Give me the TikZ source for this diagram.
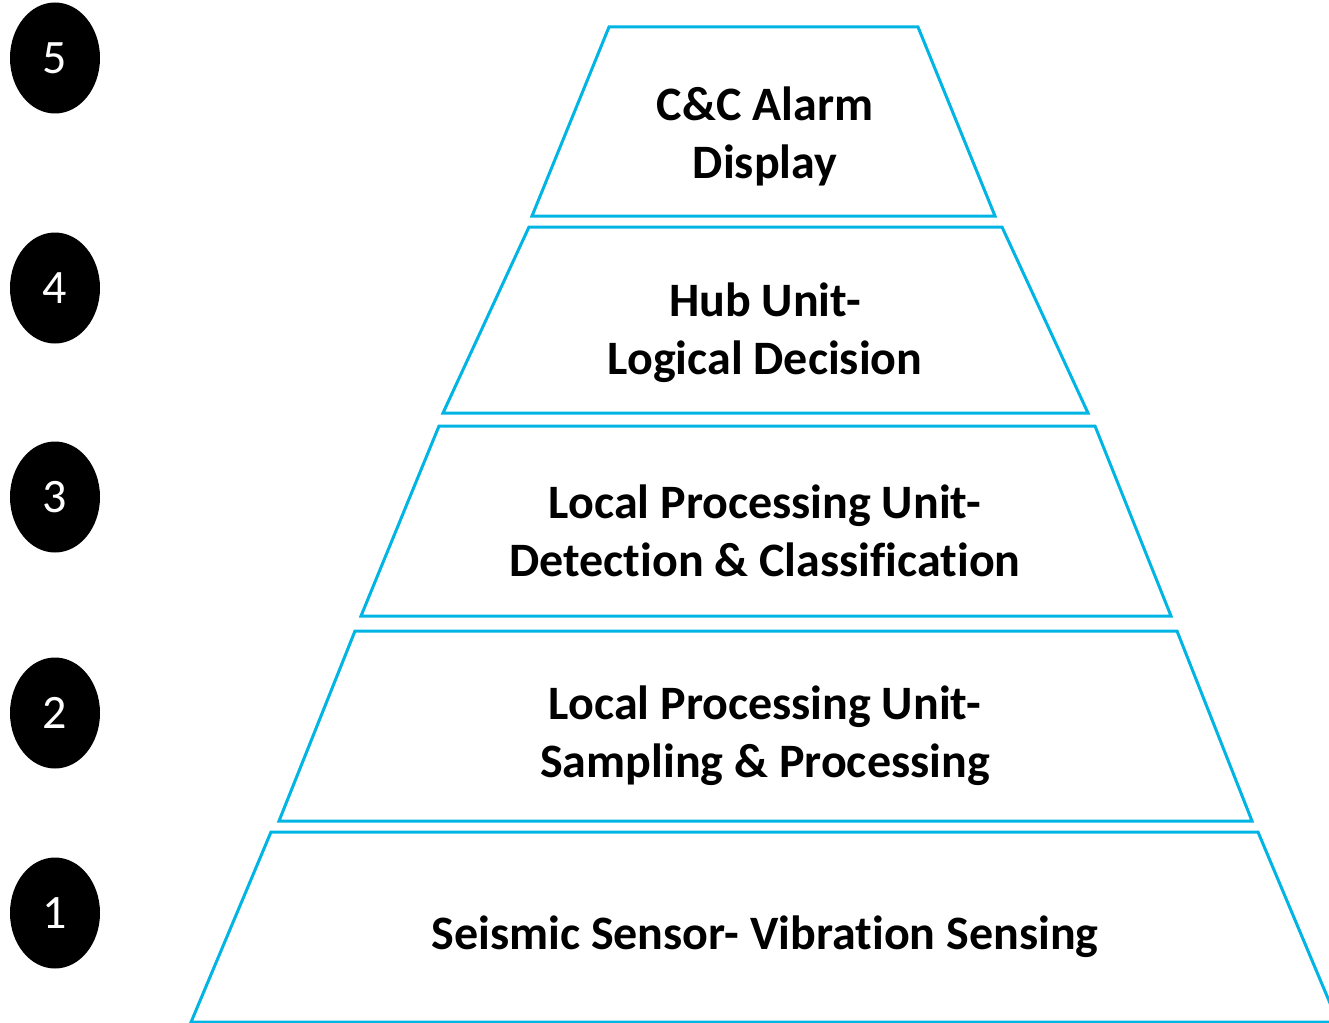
\documentclass[tikz,border=0pt]{standalone}
\usepackage{fontspec}
\usetikzlibrary{shapes.geometric}
\setmainfont[Ligatures=NoCommon]{Carlito}
\begin{document}
\begin{tikzpicture}[x=1pt,y=-1pt,
  layer/.style={draw=cyanline,line width=3pt,line join=miter},
  lbl/.style={font=\fontsize{48}{58}\selectfont\bfseries,align=center,inner sep=0pt},
  num/.style={ellipse,fill=black,minimum width=90pt,minimum height=111pt,inner sep=0pt,text=white,font=\fontsize{48}{58}\selectfont}]
\definecolor{cyanline}{RGB}{0,180,228}
\useasboundingbox (0,0) rectangle (1329,1022);
\begin{scope}
\clip (0,0) rectangle (1329,1022);
\draw[layer] (609,27) -- (918,27) -- (995,216) -- (532,216) -- cycle;
\draw[layer] (529,227) -- (1002,227) -- (1088,413) -- (443,413) -- cycle;
\draw[layer] (439,426) -- (1095,426) -- (1171,616) -- (361,616) -- cycle;
\draw[layer] (355,631) -- (1177,631) -- (1252,821) -- (279,821) -- cycle;
\draw[layer] (271,832) -- (1258,832) -- (1338,1022.2) -- (191,1022.2) -- cycle;
\end{scope}
\node[lbl] (t5) at (765,136) {C\&C Alarm\\Display};
\node[lbl] (t4) at (765,333) {Hub Unit-\\Logical Decision};
\node[lbl] (t3) at (765,531) {Local Processing Unit-\\Detection \& Classification};
\node[lbl] (t2) at (765,736) {Local Processing Unit-\\Sampling \& Processing};
\node[lbl] (t1) at (765,937) {Seismic Sensor- Vibration Sensing};
\node[num] (n5) at (55,58) {5};
\node[num] (n4) at (55,288) {4};
\node[num] (n3) at (55,497) {3};
\node[num] (n2) at (55,713) {2};
\node[num] (n1) at (55,913) {1};
\end{tikzpicture}
\end{document}
